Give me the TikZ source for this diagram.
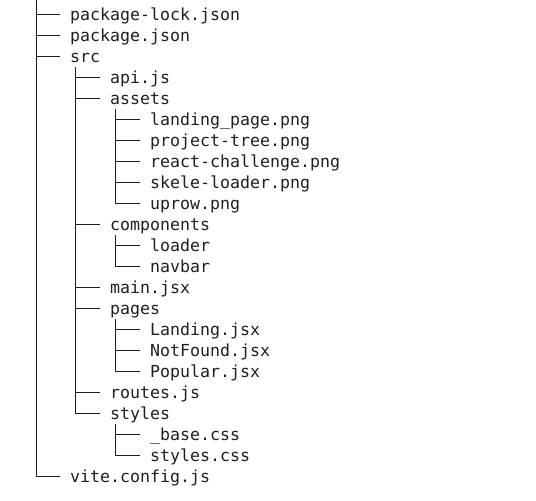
\documentclass[tikz,border=0pt]{standalone}
\usepackage{fontspec}
\usepackage{tikz}
\usetikzlibrary{calc,positioning}
\newfontfamily\treefont{DejaVu Sans Mono}
\definecolor{inkgray}{rgb}{0.12,0.12,0.12}
\tikzset{>=latex}
\tikzset{
  file/.style={anchor=west, inner sep=0pt, text height=14pt, text depth=3pt,
    font=\treefont\fontsize{16.6}{20}\selectfont, text=inkgray},
  tree/.style={line width=1pt, color=inkgray, shorten >=10pt}
}

\begin{document}
\begin{tikzpicture}[x=1pt,y=-1pt]
      \useasboundingbox (0,0) rectangle (536,501);
      % top level
      \coordinate (root) at (36,0);
      \node[file] (pkglock) at (70,14.5) {package-lock.json};
      \node[file] (pkg) at (70,35.5) {package.json};
      \node[file] (src) at (70,56.5) {src};
      \node[file] (vite) at (70,476.5) {vite.config.js};
      % src
      \node[file] (api) at (110,77.5) {api.js};
      \node[file] (assets) at (110,98.5) {assets};
      \node[file] (components) at (110,224.5) {components};
      \node[file] (mainjsx) at (110,287.5) {main.jsx};
      \node[file] (pages) at (110,308.5) {pages};
      \node[file] (routes) at (110,392.5) {routes.js};
      \node[file] (styles) at (110,413.5) {styles};
      % assets
      \node[file] (landingpng) at (150,119.5) {landing\_page.png};
      \node[file] (treepng) at (150,140.5) {project-tree.png};
      \node[file] (reactpng) at (150,161.5) {react-challenge.png};
      \node[file] (skelepng) at (150,182.5) {skele-loader.png};
      \node[file] (uprowpng) at (150,203.5) {uprow.png};
      % components
      \node[file] (loader) at (150,245.5) {loader};
      \node[file] (navbar) at (150,266.5) {navbar};
      % pages
      \node[file] (landing) at (150,329.5) {Landing.jsx};
      \node[file] (notfound) at (150,350.5) {NotFound.jsx};
      \node[file] (popular) at (150,371.5) {Popular.jsx};
      % styles
      \node[file] (basecss) at (150,434.5) {\_base.css};
      \node[file] (stylescss) at (150,455.5) {styles.css};

      % trunks
      \coordinate (srctrunk) at ($(src.west)+(5.5,10.5)$);
      \coordinate (assetstrunk) at ($(assets.west)+(5.5,10.5)$);
      \coordinate (comptrunk) at ($(components.west)+(5.5,10.5)$);
      \coordinate (pagestrunk) at ($(pages.west)+(5.5,10.5)$);
      \coordinate (stylestrunk) at ($(styles.west)+(5.5,10.5)$);

      \draw[tree] (root) |- (vite.west);
      \draw[tree] (root |- pkglock.west) -- (pkglock.west);
      \draw[tree] (root |- pkg.west) -- (pkg.west);
      \draw[tree] (root |- src.west) -- (src.west);

      \draw[tree] (srctrunk) |- (styles.west);
      \draw[tree] (srctrunk |- api.west) -- (api.west);
      \draw[tree] (srctrunk |- assets.west) -- (assets.west);
      \draw[tree] (srctrunk |- components.west) -- (components.west);
      \draw[tree] (srctrunk |- mainjsx.west) -- (mainjsx.west);
      \draw[tree] (srctrunk |- pages.west) -- (pages.west);
      \draw[tree] (srctrunk |- routes.west) -- (routes.west);

      \draw[tree] (assetstrunk) |- (uprowpng.west);
      \draw[tree] (assetstrunk |- landingpng.west) -- (landingpng.west);
      \draw[tree] (assetstrunk |- treepng.west) -- (treepng.west);
      \draw[tree] (assetstrunk |- reactpng.west) -- (reactpng.west);
      \draw[tree] (assetstrunk |- skelepng.west) -- (skelepng.west);

      \draw[tree] (comptrunk) |- (navbar.west);
      \draw[tree] (comptrunk |- loader.west) -- (loader.west);

      \draw[tree] (pagestrunk) |- (popular.west);
      \draw[tree] (pagestrunk |- landing.west) -- (landing.west);
      \draw[tree] (pagestrunk |- notfound.west) -- (notfound.west);

      \draw[tree] (stylestrunk) |- (stylescss.west);
      \draw[tree] (stylestrunk |- basecss.west) -- (basecss.west);
    \end{tikzpicture}
\end{document}
